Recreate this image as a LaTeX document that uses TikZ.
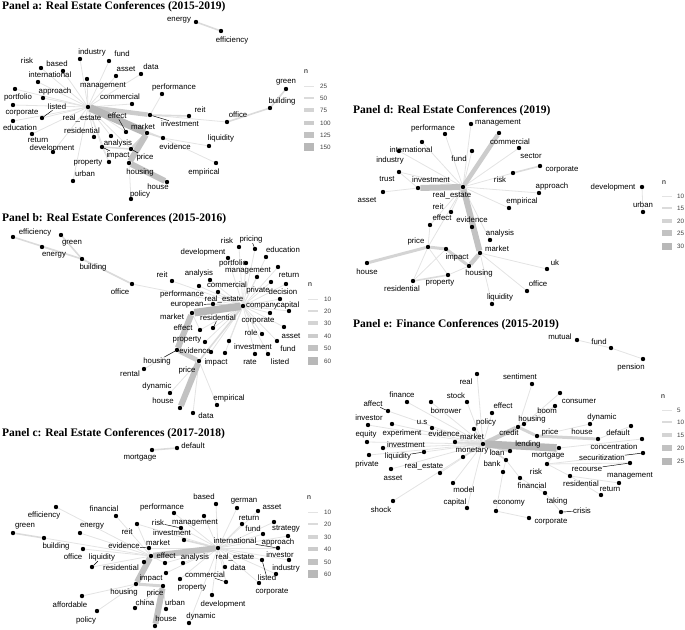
\documentclass[tikz,border=0pt]{standalone}
\usepackage{fontspec}
\setmainfont{Liberation Sans}
\newfontfamily\titlefont{Liberation Serif}
\usetikzlibrary{backgrounds}
\definecolor{g1}{gray}{0.89}
\definecolor{g2}{gray}{0.86}
\definecolor{g3}{gray}{0.83}
\definecolor{g4}{gray}{0.80}
\definecolor{g5}{gray}{0.76}
\definecolor{g6}{gray}{0.72}
\definecolor{legtxt}{gray}{0.25}
\tikzset{
  dot/.style={circle,fill=black,inner sep=0pt,minimum size=4.4pt},
  lab/.style={inner sep=0.3pt,font=\fontsize{7.8}{8}\selectfont},
  ttl/.style={anchor=base west,inner sep=0pt,font=\titlefont\bfseries\fontsize{11.5}{12}\selectfont},
  seg/.style={black,line width=0.45pt},
  e1/.style={g1,line width=0.8pt},
  e2/.style={g2,line width=1.6pt},
  e3/.style={g3,line width=3pt},
  e4/.style={g4,line width=4.5pt},
  e5/.style={g5,line width=6pt},
  e6/.style={g6,line width=7.5pt},
  lkey/.style={rectangle,inner sep=0pt,minimum width=10pt},
  ltxt/.style={anchor=west,inner sep=0pt,text=legtxt,font=\fontsize{6.3}{7}\selectfont},
  ln/.style={inner sep=0pt,text=black,font=\fontsize{7}{8}\selectfont}
}
\newcommand\W[6]{\node[dot] (#1) at (#2,#3) {}; \node[lab] (#1l) at (#5,#6) {#4};}
\newcommand\Es[3]{\foreach \t in {#3} {\draw[#1] (#2) -- (\t);}}
\newcommand\Sg[1]{\foreach \t in {#1} {\draw[seg] (\t l) -- (\t);}}
\newcommand\K[5]{\node[lkey,minimum height=#4pt,fill=#5] (#1) at (#2,#3) {};}
\begin{document}
\begin{tikzpicture}[x=1pt,y=-1pt]
\useasboundingbox (0,0) rectangle (685,629);
% titles
\node[ttl] (ta) at (2,9.5) {Panel a: Real Estate Conferences (2015-2019)};
\node[ttl] (tb) at (2,221) {Panel b: Real Estate Conferences (2015-2016)};
\node[ttl] (tc) at (2,436) {Panel c: Real Estate Conferences (2017-2018)};
\node[ttl] (td) at (353,113) {Panel d: Real Estate Conferences (2019)};
\node[ttl] (te) at (353,327) {Panel e: Finance Conferences (2015-2019)};
% ---------------- panel a
\W{a-energy}{196}{22}{energy}{179}{20}
\W{a-efficiency}{221}{31}{efficiency}{232}{40}
\W{a-industry}{80}{59}{industry}{92}{52}
\W{a-fund}{109}{61}{fund}{122}{54}
\W{a-risk}{41}{68}{risk}{27}{61}
\W{a-based}{63}{71}{based}{57}{64}
\W{a-asset}{116}{76}{asset}{126}{69}
\W{a-data}{141}{74}{data}{151}{67}
\W{a-international}{38}{82}{international}{50}{75}
\W{a-management}{87}{79}{management}{103}{86}
\W{a-performance}{162}{94}{performance}{174}{87}
\W{a-portfolio}{15}{89}{portfolio}{18}{97}
\W{a-approach}{43}{98}{approach}{55}{91}
\W{a-corporate}{13}{105}{corporate}{22}{113}
\W{a-commercial}{132}{104}{commercial}{120}{97}
\W{a-re}{88}{107}{real\_estate}{82}{118}
\W{a-listed}{42}{118}{listed}{57}{107}
\W{a-education}{13}{121}{education}{20}{128}
\W{a-investment}{150}{115}{investment}{180}{124}
\W{a-effect}{126}{132}{effect}{117}{116}
\W{a-market}{147}{133}{market}{143}{127}
\W{a-reit}{189}{116}{reit}{200}{110}
\W{a-office}{227}{122}{office}{238}{115}
\W{a-building}{270}{108}{building}{282}{101}
\W{a-green}{286}{89}{green}{286}{82}
\W{a-residential}{94}{137}{residential}{82}{131}
\W{a-analysis}{111}{136}{analysis}{118}{143}
\W{a-evidence}{163}{138}{evidence}{175}{147}
\W{a-liquidity}{209}{146}{liquidity}{221}{138}
\W{a-empirical}{216}{163}{empirical}{204}{172}
\W{a-return}{32}{134}{return}{38}{140}
\W{a-development}{53}{152}{development}{52}{148}
\W{a-impact}{102}{147}{impact}{118}{155}
\W{a-price}{131}{149}{price}{145}{157}
\W{a-property}{109}{162}{property}{88}{163}
\W{a-housing}{129}{163}{housing}{140}{172}
\W{a-urban}{73}{181}{urban}{85}{174}
\W{a-house}{167}{182}{house}{158}{187}
\W{a-policy}{131}{199}{policy}{140}{194}
\Sg{a-listed,a-investment,a-effect,a-impact,a-price}
% ---------------- panel b
\W{b-efficiency}{13}{237}{efficiency}{35}{232}
\W{b-green}{61}{235}{green}{72}{243}
\W{b-energy}{42}{247}{energy}{54}{255}
\W{b-building}{82}{259}{building}{93}{267}
\W{b-office}{132}{284}{office}{120}{292}
\W{b-reit}{172}{281}{reit}{162}{275}
\W{b-performance}{199}{286}{performance}{182}{294}
\W{b-analysis}{210}{280}{analysis}{199}{273}
\W{b-commercial}{218}{292}{commercial}{227}{285}
\W{b-risk}{239}{247}{risk}{227}{241}
\W{b-pricing}{255}{249}{pricing}{251}{239}
\W{b-education}{266}{257}{education}{283}{250}
\W{b-development}{228}{258}{development}{203}{252}
\W{b-portfolio}{246}{263}{portfolio}{233}{263}
\W{b-management}{257}{277}{management}{248}{271}
\W{b-return}{278}{267}{return}{289}{275}
\W{b-private}{271}{282}{private}{258}{290}
\W{b-decision}{286}{284}{decision}{283}{292}
\W{b-european}{213}{304}{european}{187}{305}
\W{b-re}{243}{306}{real\_estate}{224}{299}
\W{b-company}{270}{313}{company}{262}{306}
\W{b-corporate}{280}{299}{corporate}{258}{321}
\W{b-capital}{289}{311}{capital}{288}{305}
\W{b-role}{262}{334}{role}{251}{333}
\W{b-asset}{284}{327}{asset}{291}{336}
\W{b-fund}{277}{341}{fund}{288}{349}
\W{b-investment}{229}{341}{investment}{253}{347}
\W{b-rate}{255}{354}{rate}{250}{362}
\W{b-listed}{268}{354}{listed}{280}{362}
\W{b-market}{192}{313}{market}{172}{317}
\W{b-effect}{200}{330}{effect}{183}{328}
\W{b-residential}{213}{328}{residential}{218}{318}
\W{b-property}{205}{342}{property}{187}{340}
\W{b-housing}{177}{350}{housing}{157}{361}
\W{b-evidence}{211}{352}{evidence}{195}{351}
\W{b-impact}{225}{353}{impact}{216}{362}
\W{b-price}{199}{361}{price}{187}{370}
\W{b-rental}{144}{369}{rental}{130}{374}
\W{b-dynamic}{170}{393}{dynamic}{157}{386}
\W{b-house}{180}{408}{house}{163}{401}
\W{b-empirical}{217}{405}{empirical}{229}{398}
\W{b-data}{193}{413}{data}{206}{416}
\Sg{b-european,b-housing,b-pricing,b-residential}
% ---------------- panel c
\W{c-mortgage}{152}{450}{mortgage}{140}{458}
\W{c-default}{177}{448}{default}{193}{446}
\W{c-efficiency}{56}{507}{efficiency}{44}{515}
\W{c-green}{13}{533}{green}{25}{526}
\W{c-building}{44}{538}{building}{56}{546}
\W{c-energy}{80}{533}{energy}{92}{526}
\W{c-financial}{116}{516}{financial}{104}{509}
\W{c-performance}{174}{513}{performance}{162}{507}
\W{c-reit}{137}{524}{reit}{127}{532}
\W{c-office}{83}{549}{office}{73}{557}
\W{c-liquidity}{92}{567}{liquidity}{102}{557}
\W{c-evidence}{149}{548}{evidence}{124}{546}
\W{c-market}{151}{556}{market}{158}{543}
\W{c-effect}{165}{563}{effect}{166}{556}
\W{c-residential}{144}{562}{residential}{121}{568}
\W{c-impact}{166}{573}{impact}{151}{578}
\W{c-housing}{136}{584}{housing}{124}{592}
\W{c-price}{163}{586}{price}{155}{593}
\W{c-property}{180}{579}{property}{192}{588}
\W{c-analysis}{183}{563}{analysis}{195}{557}
\W{c-commercial}{226}{582}{commercial}{205}{575}
\W{c-data}{225}{567}{data}{238}{568}
\W{c-re}{218}{548}{real\_estate}{235}{557}
\W{c-international}{278}{548}{international}{235}{541}
\W{c-approach}{288}{536}{approach}{278}{542}
\W{c-strategy}{274}{522}{strategy}{286}{529}
\W{c-based}{216}{504}{based}{204}{497}
\W{c-german}{237}{508}{german}{244}{501}
\W{c-asset}{258}{511}{asset}{272}{507}
\W{c-management}{204}{516}{management}{195}{523}
\W{c-risk}{181}{528}{risk}{158}{523}
\W{c-investment}{184}{540}{investment}{172}{533}
\W{c-return}{242}{524}{return}{249}{518}
\W{c-fund}{263}{534}{fund}{253}{529}
\W{c-investor}{289}{560}{investor}{280}{555}
\W{c-industry}{276}{574}{industry}{286}{568}
\W{c-listed}{262}{560}{listed}{267}{578}
\W{c-corporate}{259}{583}{corporate}{272}{592}
\W{c-development}{212}{595}{development}{223}{604}
\W{c-dynamic}{189}{623}{dynamic}{201}{616}
\W{c-china}{135}{608}{china}{145}{603}
\W{c-urban}{166}{609}{urban}{175}{603}
\W{c-house}{155}{626}{house}{166}{619}
\W{c-affordable}{82}{596}{affordable}{70}{605}
\W{c-policy}{97}{611}{policy}{86}{620}
\Sg{c-evidence,c-liquidity,c-risk,c-international,c-listed,c-commercial}
% ---------------- panel d
\W{d-performance}{445}{134}{performance}{433}{128}
\W{d-management}{471}{124}{management}{498}{123}
\W{d-commercial}{499}{133}{commercial}{510}{142}
\W{d-international}{422}{142}{international}{411}{150}
\W{d-industry}{399}{151}{industry}{390}{160}
\W{d-trust}{399}{172}{trust}{387}{179}
\W{d-asset}{383}{192}{asset}{367}{200}
\W{d-fund}{472}{151}{fund}{459}{159}
\W{d-sector}{519}{148}{sector}{531}{156}
\W{d-corporate}{540}{166}{corporate}{562}{170}
\W{d-risk}{513}{173}{risk}{500}{180}
\W{d-approach}{539}{193}{approach}{552}{186}
\W{d-empirical}{509}{208}{empirical}{522}{201}
\W{d-investment}{418}{188}{investment}{431}{180}
\W{d-re}{463}{187}{real\_estate}{452}{195}
\W{d-reit}{451}{212}{reit}{438}{207}
\W{d-effect}{430}{225}{effect}{442}{218}
\W{d-evidence}{472}{227}{evidence}{472}{220}
\W{d-analysis}{490}{240}{analysis}{500}{233}
\W{d-market}{480}{253}{market}{497}{249}
\W{d-price}{428}{247}{price}{416}{241}
\W{d-impact}{446}{249}{impact}{457}{257}
\W{d-housing}{469}{266}{housing}{479}{273}
\W{d-house}{367}{263}{house}{367}{272}
\W{d-property}{448}{275}{property}{440}{283}
\W{d-residential}{413}{281}{residential}{402}{289}
\W{d-liquidity}{492}{304}{liquidity}{500}{297}
\W{d-uk}{547}{269}{uk}{555}{263}
\W{d-office}{527}{291}{office}{538}{284}
\W{d-development}{642}{187}{development}{613}{187}
\W{d-urban}{643}{212}{urban}{643}{205}
% ---------------- panel e
\W{e-mutual}{577}{340}{mutual}{560}{337}
\W{e-fund}{611}{348}{fund}{599}{342}
\W{e-pension}{643}{359}{pension}{631}{367}
\W{e-real}{477}{374}{real}{466}{382}
\W{e-sentiment}{532}{384}{sentiment}{520}{377}
\W{e-finance}{407}{402}{finance}{402}{395}
\W{e-stock}{467}{402}{stock}{456}{396}
\W{e-borrower}{431}{402}{borrower}{446}{411}
\W{e-affect}{388}{411}{affect}{373}{404}
\W{e-effect}{492}{413}{effect}{503}{406}
\W{e-consumer}{560}{393}{consumer}{579}{401}
\W{e-boom}{555}{406}{boom}{547}{411}
\W{e-investor}{368}{425}{investor}{369}{418}
\W{e-experiment}{392}{424}{experiment}{402}{433}
\W{e-us}{432}{428}{u.s}{422}{422}
\W{e-policy}{474}{429}{policy}{486}{422}
\W{e-housing}{524}{424}{housing}{532}{419}
\W{e-credit}{518}{427}{credit}{509}{433}
\W{e-dynamic}{590}{424}{dynamic}{602}{417}
\W{e-default}{631}{426}{default}{618}{433}
\W{e-price}{537}{436}{price}{550}{432}
\W{e-house}{598}{439}{house}{582}{432}
\W{e-concentration}{642}{439}{concentration}{614}{447}
\W{e-equity}{367}{442}{equity}{366}{434}
\W{e-evidence}{455}{442}{evidence}{444}{434}
\W{e-market}{483}{444}{market}{472}{437}
\W{e-investment}{383}{448}{investment}{406}{445}
\W{e-liquidity}{424}{452}{liquidity}{398}{456}
\W{e-private}{369}{455}{private}{367}{464}
\W{e-monetary}{463}{457}{monetary}{472}{451}
\W{e-loan}{510}{451}{loan}{497}{453}
\W{e-lending}{559}{448}{lending}{528}{444}
\W{e-mortgage}{547}{464}{mortgage}{548}{456}
\W{e-securitization}{643}{453}{securitization}{602}{458}
\W{e-recourse}{630}{463}{recourse}{587}{469}
\W{e-management}{619}{483}{management}{630}{476}
\W{e-bank}{506}{460}{bank}{492}{464}
\W{e-risk}{520}{478}{risk}{536}{472}
\W{e-residential}{570}{476}{residential}{581}{484}
\W{e-return}{601}{495}{return}{610}{489}
\W{e-financial}{503}{472}{financial}{532}{486}
\W{e-taking}{545}{493}{taking}{557}{501}
\W{e-crisis}{561}{512}{crisis}{582}{511}
\W{e-economy}{496}{511}{economy}{509}{503}
\W{e-corporate}{529}{518}{corporate}{551}{522}
\W{e-asset}{391}{469}{asset}{393}{478}
\W{e-re}{440}{473}{real\_estate}{424}{466}
\W{e-model}{453}{483}{model}{464}{490}
\W{e-capital}{467}{508}{capital}{455}{502}
\W{e-shock}{393}{501}{shock}{381}{510}
\Sg{e-affect,e-liquidity,e-securitization,e-recourse,e-crisis}
% ---------------- edges
\begin{pgfonlayer}{background}
% a
\Es{e1}{a-re}{a-industry,a-fund,a-risk,a-based,a-international,a-approach,a-portfolio,a-corporate,a-listed,a-education,a-return,a-development,a-residential,a-property,a-urban,a-management,a-commercial,a-asset,a-data,a-analysis,a-impact,a-effect,a-evidence,a-price}
\Es{e1}{a-investment}{a-office,a-performance}
\Es{e1}{a-evidence}{a-liquidity,a-empirical}
\Es{e1}{a-housing}{a-policy}
\Es{e1}{a-impact}{a-property}
\Es{e2}{a-price}{a-impact}
\Es{e2}{a-market}{a-evidence}
\Es{e2}{a-investment}{a-reit}
\Es{e2}{a-office}{a-building}
\Es{e2}{a-building}{a-green}
\Es{e2}{a-energy}{a-efficiency}
\Es{e3}{a-market}{a-price}
\Es{e4}{a-re}{a-investment}
\Es{e6}{a-re}{a-market}
\Es{e5}{a-market}{a-housing}
\Es{e5}{a-housing}{a-house}
% b
\Es{e1}{b-re}{b-analysis,b-commercial,b-performance,b-reit,b-office,b-development,b-risk,b-pricing,b-education,b-portfolio,b-management,b-return,b-private,b-decision,b-company,b-corporate,b-capital,b-role,b-asset,b-fund,b-investment,b-rate,b-listed,b-effect,b-residential,b-property,b-evidence,b-impact}
\Es{e1}{b-building}{b-energy}
\Es{e1}{b-price}{b-empirical,b-data,b-dynamic}
\Es{e1}{b-housing}{b-rental}
\Es{e1}{b-market}{b-effect}
\Es{e2}{b-building}{b-efficiency,b-green,b-office}
\Es{e2}{b-re}{b-price,b-european}
\Es{e6}{b-re}{b-market}
\Es{e5}{b-market}{b-housing}
\Es{e4}{b-housing}{b-price}
\Es{e5}{b-price}{b-house}
% c
\Es{e1}{c-re}{c-risk,c-management,c-performance,c-based,c-german,c-asset,c-return,c-fund,c-strategy,c-approach,c-international,c-investor,c-listed,c-industry,c-data,c-commercial,c-corporate,c-development,c-analysis,c-effect,c-impact,c-property,c-dynamic,c-evidence,c-reit}
\Es{e1}{c-market}{c-efficiency,c-building,c-energy,c-financial,c-office,c-liquidity,c-residential,c-reit,c-effect}
\Es{e1}{c-housing}{c-affordable,c-policy}
\Es{e1}{c-price}{c-china,c-urban}
\Es{e2}{c-green}{c-building}
\Es{e2}{c-re}{c-investment}
\Es{e2}{c-mortgage}{c-default}
\Es{e5}{c-re}{c-market}
\Es{e5}{c-market}{c-housing}
\Es{e3}{c-housing}{c-price}
\Es{e5}{c-price}{c-house}
% d
\Es{e1}{d-re}{d-management,d-performance,d-international,d-industry,d-fund,d-risk,d-sector,d-approach,d-empirical,d-reit,d-effect,d-analysis,d-evidence,d-trust,d-price}
\Es{e1}{d-investment}{d-asset,d-trust}
\Es{e1}{d-market}{d-uk,d-office,d-liquidity}
\Es{e1}{d-price}{d-property,d-residential,d-effect}
\Es{e1}{d-impact}{d-residential}
\Es{e1}{d-housing}{d-property}
\Es{e1}{d-development}{d-urban}
\Es{e2}{d-property}{d-residential}
\Es{e2}{d-risk}{d-corporate}
\Es{e4}{d-re}{d-commercial}
\Es{e5}{d-re}{d-investment,d-market}
\Es{e4}{d-market}{d-housing}
\Es{e3}{d-price}{d-impact,d-house}
\Es{e3}{d-impact}{d-housing}
% e
\Es{e1}{e-market}{e-real,e-stock,e-effect,e-borrower,e-finance,e-us,e-affect,e-investor,e-experiment,e-equity,e-investment,e-liquidity,e-private,e-asset,e-re,e-model,e-capital,e-shock}
\Es{e1}{e-lending}{e-mortgage,e-concentration}
\Es{e1}{e-house}{e-default}
\Es{e1}{e-price}{e-dynamic}
\Es{e1}{e-bank}{e-risk,e-financial}
\Es{e1}{e-financial}{e-economy}
\Es{e1}{e-economy}{e-corporate}
\Es{e1}{e-risk}{e-taking}
\Es{e1}{e-taking}{e-crisis}
\Es{e1}{e-mortgage}{e-residential,e-securitization,e-recourse}
\Es{e1}{e-residential}{e-return,e-management}
\Es{e1}{e-mutual}{e-fund}
\Es{e1}{e-fund}{e-pension}
\Es{e1}{e-housing}{e-boom,e-consumer}
\Es{e1}{e-credit}{e-sentiment}
\Es{e2}{e-market}{e-housing,e-bank,e-monetary,e-policy,e-evidence}
\Es{e3}{e-market}{e-loan}
\Es{e3}{e-price}{e-house}
\Es{e3}{e-credit}{e-price}
\Es{e4}{e-market}{e-credit}
\Es{e6}{e-market}{e-lending}
\end{pgfonlayer}
% ---------------- legends
\node[ln] (na) at (306,72) {n};
\K{ka1}{309}{86}{0.6}{g1}\K{ka2}{309}{98}{1.8}{g2}\K{ka3}{309}{110}{3.2}{g3}
\K{ka4}{309}{123}{4.8}{g4}\K{ka5}{309}{135}{6}{g5}\K{ka6}{309}{147}{7.5}{g6}
\node[ltxt] (la1) at (320,86) {25};\node[ltxt] (la2) at (320,98) {50};\node[ltxt] (la3) at (320,110) {75};
\node[ltxt] (la4) at (320,123) {100};\node[ltxt] (la5) at (320,135) {125};\node[ltxt] (la6) at (320,147) {150};
\node[ln] (nb) at (310,285) {n};
\K{kb1}{312.5}{299}{0.6}{g1}\K{kb2}{312.5}{311}{1.8}{g2}\K{kb3}{312.5}{323}{3.2}{g3}
\K{kb4}{312.5}{336}{4.6}{g4}\K{kb5}{312.5}{348}{6}{g5}\K{kb6}{312.5}{361}{7.4}{g6}
\node[ltxt] (lb1) at (324,299) {10};\node[ltxt] (lb2) at (324,311) {20};\node[ltxt] (lb3) at (324,323) {30};
\node[ltxt] (lb4) at (324,336) {40};\node[ltxt] (lb5) at (324,348) {50};\node[ltxt] (lb6) at (324,361) {60};
\node[ln] (nc) at (309,498) {n};
\K{kc1}{312.5}{512}{0.6}{g1}\K{kc2}{312.5}{524}{1.8}{g2}\K{kc3}{312.5}{537}{3.2}{g3}
\K{kc4}{312.5}{549}{4.6}{g4}\K{kc5}{312.5}{562}{6}{g5}\K{kc6}{312.5}{574}{7.4}{g6}
\node[ltxt] (lc1) at (324,512) {10};\node[ltxt] (lc2) at (324,524) {20};\node[ltxt] (lc3) at (324,537) {30};
\node[ltxt] (lc4) at (324,549) {40};\node[ltxt] (lc5) at (324,562) {50};\node[ltxt] (lc6) at (324,574) {60};
\node[ln] (nd) at (664,183) {n};
\K{kd1}{667}{196}{0.6}{g1}\K{kd2}{667}{208}{2}{g2}\K{kd3}{667}{221}{3.5}{g3}
\K{kd4}{667}{233}{5.5}{g5}\K{kd5}{667}{246}{7}{g6}
\node[ltxt] (ld1) at (677,196) {10};\node[ltxt] (ld2) at (677,208) {15};\node[ltxt] (ld3) at (677,221) {20};
\node[ltxt] (ld4) at (677,233) {25};\node[ltxt] (ld5) at (677,246) {30};
\node[ln] (ne) at (663,397) {n};
\K{ke1}{667}{410}{0.6}{g1}\K{ke2}{667}{422}{2}{g2}\K{ke3}{667}{435}{3.5}{g3}
\K{ke4}{667}{448}{5.5}{g5}\K{ke5}{667}{461}{7}{g6}
\node[ltxt] (le1) at (677,410) {5};\node[ltxt] (le2) at (677,422) {10};\node[ltxt] (le3) at (677,435) {15};
\node[ltxt] (le4) at (677,448) {20};\node[ltxt] (le5) at (677,461) {25};
\end{tikzpicture}
\end{document}
